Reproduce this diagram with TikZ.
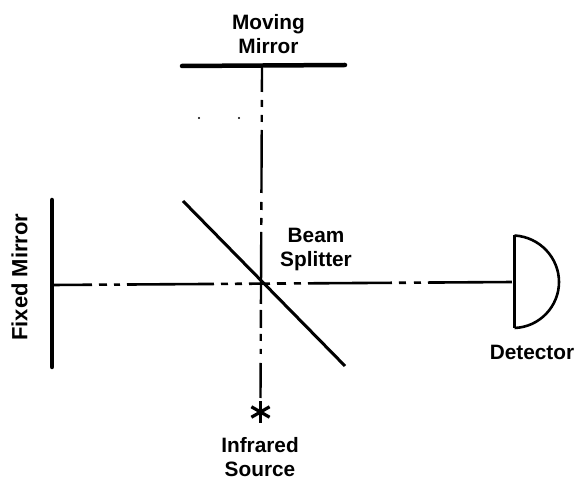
\documentclass[tikz,border=0pt]{standalone}
\usepackage{fontspec}
\setmainfont{Liberation Sans}
\tikzset{
  lbl/.style={font=\fontsize{20.8}{24}\selectfont\bfseries, align=center, inner sep=0pt, text=black},
  lblside/.style={font=\fontsize{22}{24}\selectfont\bfseries, inner sep=0pt, text=black},
  mirror/.style={line width=4.5pt, line cap=round, black},
  splitter/.style={line width=3pt, black},
  beamv/.style={line width=2.4pt, black, dash pattern=on 24pt off 8pt on 7pt off 8pt on 7pt off 8pt on 63pt off 9pt on 8pt off 8pt on 7pt off 7pt on 72pt off 6pt on 18pt off 6pt on 7pt off 8pt on 5pt off 9pt on 41pt},
  beamh/.style={line width=2.6pt, black, dash pattern=on 40pt off 7pt on 8pt off 7pt on 6pt off 7pt on 87pt off 7pt on 7pt off 7pt on 7pt off 7pt on 21pt off 7pt on 9pt off 8pt on 7pt off 7pt on 84pt off 7pt on 7pt off 8pt on 7pt off 7pt on 84pt},
  detbase/.style={line width=3.5pt, black},
  detarc/.style={line width=2.6pt, black},
  starline/.style={line width=3.2pt, black},
}
\begin{document}
\begin{tikzpicture}[x=1pt,y=-1pt]
\useasboundingbox (0,0) rectangle (576,478);
% mirrors
\coordinate (mmL) at (182,66);
\coordinate (mmR) at (345,65);
\coordinate (mmC) at (262,66);
\coordinate (fmT) at (52,200);
\coordinate (fmB) at (52,367);
\coordinate (fmC) at (52,285);
\draw[mirror] (mmL) -- (mmR);
\draw[mirror] (fmT) -- (fmB);
% beam splitter
\coordinate (bsT) at (183,201);
\coordinate (bsB) at (345,366);
\draw[splitter] (bsT) -- (bsB);
% detector
\coordinate (detT) at (514.5,235.5);
\coordinate (detB) at (514.5,328);
\coordinate (detC) at (514,282);
\coordinate (detR) at (559,282);
\draw[detarc] (detT) .. controls (540,237) and (559,258) .. (detR)
              .. controls (559,306) and (540,327) .. (detB);
\draw[detbase] (detT) -- (detB);
% source
\coordinate (src) at (260.5,412);
\coordinate (srcT) at (260.5,398);
\draw[starline] (src) +(-90:10.5) -- +(90:10.5);
\draw[starline] (src) +(-30:10.5) -- +(150:10.5);
\draw[starline] (src) +(30:10.5) -- +(210:10.5);
% beams
\draw[beamv] (mmC) ++(0,2) -- (srcT);
\draw[beamh] (fmC) -- (detC);
% specks
\coordinate (sp1) at (199,118);
\coordinate (sp2) at (239,118);
\fill (sp1) circle (1.2pt);
\fill (sp2) circle (1.2pt);
% labels
\node[lbl] (moving) at (268.5,34) {Moving\\Mirror};
\node[lbl] (beam) at (316,249.5) {Beam\\Splitter};
\node[lbl] (det) at (532,352.5) {Detector};
\node[lbl] (infra) at (260,457) {Infrared\\Source};
\node[lblside, rotate=90] (fixed) at (19.5,277) {Fixed Mirror};
\end{tikzpicture}
\end{document}
